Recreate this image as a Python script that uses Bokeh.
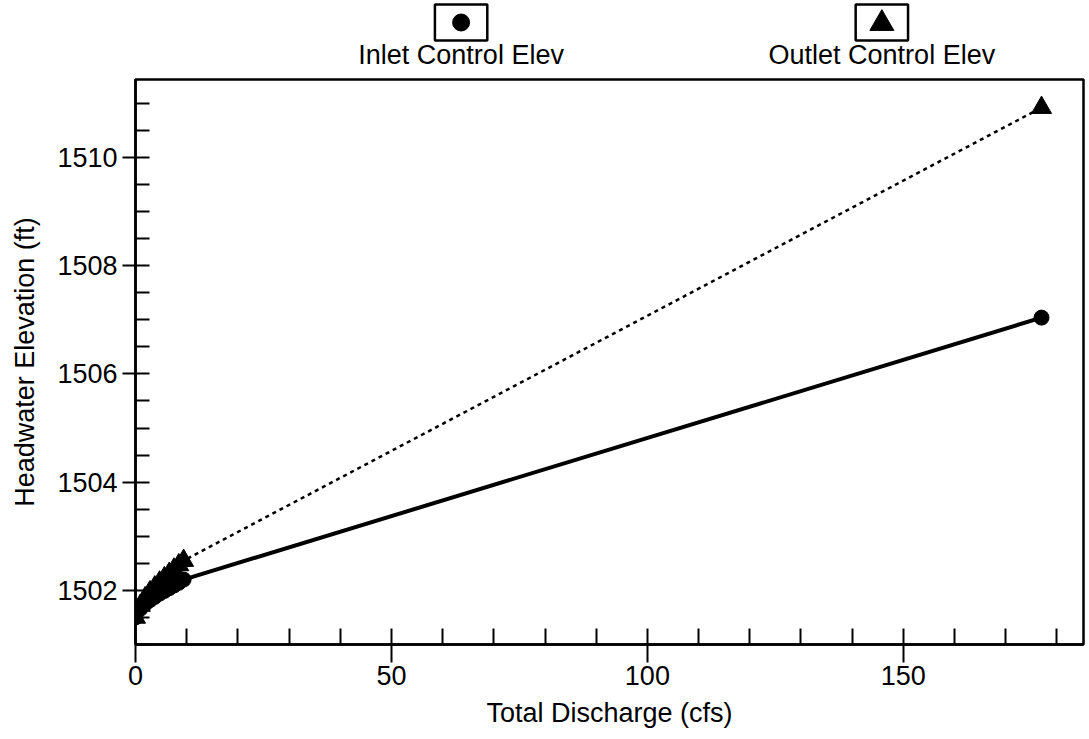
from bokeh.plotting import figure
from bokeh.layouts import column
from bokeh.models import Range1d, SingleIntervalTicker, ColumnDataSource
from bokeh.core.properties import value
from bokeh.embed import file_html
from bokeh.resources import INLINE

# ---- data ----
discharge = [0.0, 0.94, 1.88, 2.82, 3.76, 4.7, 5.64, 6.58, 7.52, 8.46, 9.4, 177.0]
inlet_elev = [1501.5, 1501.66, 1501.75, 1501.82, 1501.88, 1501.94, 1501.99,
              1502.04, 1502.09, 1502.14, 1502.2, 1507.04]
outlet_elev = [1501.5, 1501.72, 1501.86, 1501.97, 1502.06, 1502.15, 1502.23,
               1502.31, 1502.39, 1502.47, 1502.55, 1510.92]
series_names = ["Inlet Control Elev", "Outlet Control Elev"]
x_title = "Total Discharge (cfs)"
y_title = "Headwater Elevation (ft)"

FONT = "Liberation Sans"
FS = "27px"
W = 1086

# ---- legend strip (canvas-pixel coordinates) ----
leg = figure(width=W, height=77, x_range=Range1d(0, W), y_range=Range1d(77, 0),
             output_backend="svg", toolbar_location=None, min_border=0,
             min_border_left=0, min_border_right=0, min_border_top=0, min_border_bottom=0)
leg.axis.visible = False
leg.grid.visible = False
leg.outline_line_color = None
leg_src = ColumnDataSource(dict(cx=[373, 855], name=series_names))
leg.rect(x="cx", y=22, width=60, height=36, source=leg_src, fill_color=None,
         line_color="black", line_width=2.5)
leg.scatter(x=[373], y=[22], marker="circle", size=17, color="black")
leg.scatter(x=[855], y=[23], marker="triangle", size=24, color="black")
leg.text(x="cx", y=54, text="name", source=leg_src, text_align="center",
         text_baseline="middle", text_font=value(FONT), text_font_size=FS,
         text_color="black")

# ---- main plot ----
p = figure(frame_width=948, frame_height=565,
           x_range=Range1d(0, 185.2), y_range=Range1d(1501.0, 1511.44),
           output_backend="svg", toolbar_location=None,
           min_border_left=135, min_border_right=3, min_border_top=2, min_border_bottom=86)
p.grid.visible = False
p.outline_line_color = "black"
p.outline_line_width = 2.5
p.background_fill_color = "white"

p.line(discharge, outlet_elev, line_color="black", line_width=2.5, line_dash="4 4")
p.line(discharge, inlet_elev, line_color="black", line_width=4)
p.scatter(discharge, outlet_elev, marker="triangle", size=20, color="black")
p.scatter(discharge, inlet_elev, marker="circle", size=15, color="black")

p.xaxis.ticker = SingleIntervalTicker(interval=50, num_minor_ticks=5)
p.yaxis.ticker = SingleIntervalTicker(interval=2, num_minor_ticks=4)

for ax in (p.xaxis, p.yaxis):
    ax.axis_line_color = "black"
    ax.axis_line_width = 2.5
    ax.major_tick_line_color = "black"
    ax.minor_tick_line_color = "black"
    ax.major_tick_line_width = 2
    ax.minor_tick_line_width = 2
    ax.major_label_text_font = FONT
    ax.major_label_text_font_size = FS
    ax.major_label_text_color = "black"
    ax.axis_label_text_font = FONT
    ax.axis_label_text_font_size = FS
    ax.axis_label_text_font_style = "normal"
    ax.axis_label_text_color = "black"

p.xaxis.axis_label = x_title
p.yaxis.axis_label = y_title
p.xaxis.major_tick_in = 0
p.xaxis.major_tick_out = 18
p.xaxis.minor_tick_in = 16
p.xaxis.minor_tick_out = 0
p.xaxis.major_label_standoff = 3
p.xaxis.axis_label_standoff = 10
p.yaxis.major_tick_in = 0
p.yaxis.major_tick_out = 13
p.yaxis.minor_tick_in = 14
p.yaxis.minor_tick_out = 0
p.yaxis.major_label_standoff = 5
p.yaxis.axis_label_standoff = 14

layout = column(leg, p, spacing=0)
open("out.html", "w").write(file_html(layout, INLINE))
